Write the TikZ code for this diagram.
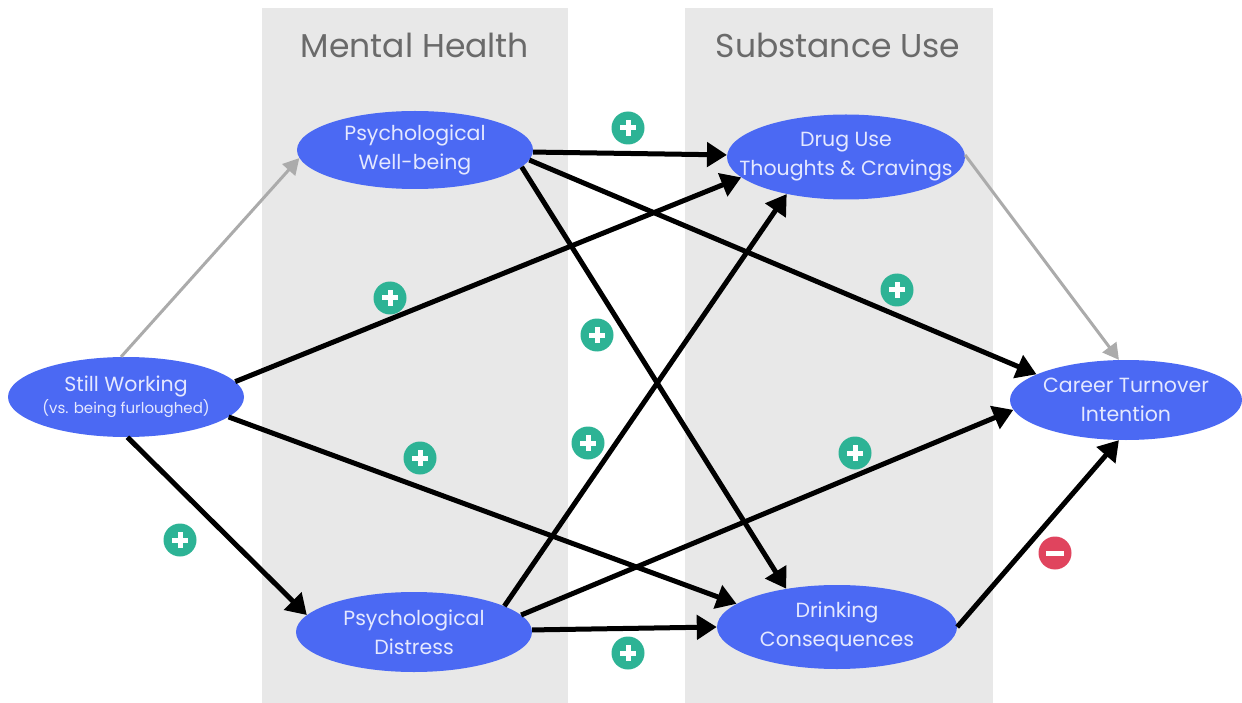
\documentclass[tikz,border=0pt]{standalone}
\usepackage{fontspec}
\setmainfont{Poppins}
\usetikzlibrary{arrows.meta,shapes.geometric}
\definecolor{band}{HTML}{E8E8E8}
\definecolor{nodeblue}{HTML}{4B69F3}
\definecolor{nodetext}{HTML}{E4E8FF}
\definecolor{titlegray}{HTML}{6A6A6A}
\definecolor{plusteal}{HTML}{2DB395}
\definecolor{minusred}{HTML}{E0445E}
\definecolor{greyarrow}{HTML}{ABABAB}
\tikzset{
  var/.style={ellipse, fill=nodeblue, draw=none, minimum width=236pt, minimum height=80pt,
    inner sep=-30pt, align=center, text=nodetext, font=\fontsize{20.5}{29}\selectfont},
  bandtitle/.style={text=titlegray, font=\fontsize{33}{38}\selectfont},
  blk/.style={draw=black, line width=5pt, -{Triangle[length=20pt,width=24pt]}},
  gry/.style={draw=greyarrow, line width=3pt, -{Triangle[length=16pt,width=17pt]}},
  plusmark/.style={circle, fill=plusteal, minimum size=33pt, inner sep=0pt,
    path picture={\draw[white, line width=5pt] (path picture bounding box.center) ++(-8pt,0) -- ++(16pt,0);
                  \draw[white, line width=5pt] (path picture bounding box.center) ++(0,-8pt) -- ++(0,16pt);}},
  minusmark/.style={circle, fill=minusred, minimum size=33pt, inner sep=0pt,
    path picture={\draw[white, line width=5pt] (path picture bounding box.center) ++(-9pt,0) -- ++(18pt,0);}}
}
\begin{document}
\begin{tikzpicture}[x=1pt,y=-1pt]
\useasboundingbox (0,0) rectangle (1242,703);
\fill[white] (0,0) rectangle (1242,703);
% bands
\fill[band] (262,8) rectangle (568,703);
\fill[band] (685,8) rectangle (993,703);
\node[bandtitle] (t1) at (415,45) {Mental Health};
\node[bandtitle] (t2) at (838,45) {Substance Use};
% nodes
\node[var] (sw) at (126,397) {Still Working\\[-7pt]{\fontsize{15}{16}\selectfont (vs. being furloughed)}};
\node[var, minimum height=78pt] (wb) at (415,150) {Psychological\\Well-being};
\node[var] (pd) at (414,632) {Psychological\\Distress};
\node[var, minimum width=238pt, minimum height=85pt] (du) at (846,157) {Drug Use\\Thoughts \& Cravings};
\node[var, minimum width=240pt, minimum height=84pt] (dc) at (837,627) {Drinking\\Consequences};
\node[var, minimum width=232pt] (ct) at (1126,400) {Career Turnover\\Intention};
% grey arrows
\draw[gry] (sw.97) -- (wb.184);
\draw[gry] (du.1) -- (ct.100);
% black arrows
\draw[blk] (wb.-1) -- (du.179);
\draw[blk] (wb.-5) -- (ct.164);
\draw[blk] (wb.-9) -- (dc.143);
\draw[blk] (sw.8) -- (du.191);
\draw[blk] (sw.-11) -- (dc.167);
\draw[blk] (sw.-88) -- (pd.171);
\draw[blk] (pd.16) -- (du.212);
\draw[blk] (pd.9) -- (ct.185);
\draw[blk] (pd.1) -- (dc.180);
\draw[blk] (dc.0) -- (ct.260);
% signs
\node[plusmark] (p1) at (628,128) {};
\node[plusmark] (p2) at (390,298) {};
\node[plusmark] (p3) at (597,335) {};
\node[plusmark] (p4) at (897,290) {};
\node[plusmark] (p5) at (420,458) {};
\node[plusmark] (p6) at (588,443) {};
\node[plusmark] (p7) at (855,453) {};
\node[plusmark] (p8) at (180,540) {};
\node[plusmark] (p9) at (628,653) {};
\node[minusmark] (m1) at (1055,553) {};
\end{tikzpicture}
\end{document}
